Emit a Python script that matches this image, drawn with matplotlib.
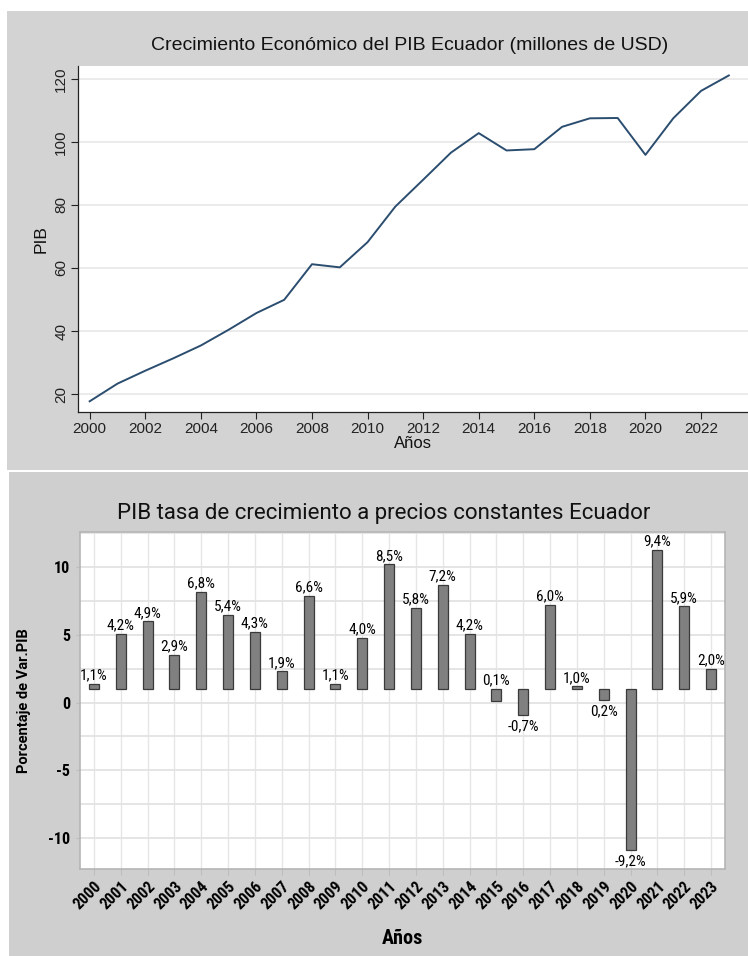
import matplotlib
matplotlib.use("Agg")
import matplotlib.pyplot as plt
from matplotlib.patches import Rectangle
from matplotlib.ticker import MultipleLocator

W, H = 748, 956

# --- top chart data: PIB (millones de USD) ---
years_pib = list(range(2000, 2024))
pib = [17.7, 23.3, 27.4, 31.3, 35.4, 40.4, 45.7, 49.9, 61.2, 60.2, 68.2, 79.5,
       88.0, 96.6, 102.8, 97.3, 97.7, 104.8, 107.5, 107.6, 95.9, 107.5, 116.2, 121.1]

# --- bottom chart data: bar tops as drawn (bars start at 1) and their labels ---
years_var = [str(y) for y in range(2000, 2024)]
bar_top = [1.4, 5.1, 6.0, 3.5, 8.2, 6.5, 5.2, 2.3, 7.9, 1.4, 4.8, 10.2,
           7.0, 8.7, 5.1, 0.1, -0.9, 7.2, 1.2, 0.2, -10.9, 11.3, 7.1, 2.5]
bar_labels = ["1,1%", "4,2%", "4,9%", "2,9%", "6,8%", "5,4%", "4,3%", "1,9%",
              "6,6%", "1,1%", "4,0%", "8,5%", "5,8%", "7,2%", "4,2%", "0,1%",
              "-0,7%", "6,0%", "1,0%", "0,2%", "-9,2%", "9,4%", "5,9%", "2,0%"]
label_below = ["2016", "2019", "2020"]
BASE = 1.0

arial = ["Liberation Sans", "Arimo", "DejaVu Sans"]
roboto = ["Roboto", "DejaVu Sans"]
cond = ["Roboto Condensed", "Archivo Narrow", "DejaVu Sans"]


def px_axes(fig, left, top, right, bottom):
    return fig.add_axes([left / W, 1 - bottom / H, (right - left) / W, (bottom - top) / H])


fig = plt.figure(figsize=(W / 100, H / 100), dpi=100)
fig.patch.set_facecolor("white")

# grey panels behind each chart
fig.patches.append(Rectangle((7 / W, 1 - 470 / H), 741 / W, 459 / H,
                             transform=fig.transFigure, facecolor="#d3d3d3",
                             edgecolor="none", zorder=-10))
fig.patches.append(Rectangle((9 / W, 0), 739 / W, (956 - 472) / H,
                             transform=fig.transFigure, facecolor="#cfcfcf",
                             edgecolor="none", zorder=-10))

# ---------------- top: line chart ----------------
ax1 = px_axes(fig, 78, 66, 748, 412)
ax1.set_facecolor("white")
ax1.plot(years_pib, pib, color="#2b4d6f", lw=1.4)
ax1.set_xlim(1999.58, 2023.69)
ax1.set_ylim(14.3, 124.1)
ax1.set_xticks(range(2000, 2023, 2))
ax1.set_yticks(range(20, 121, 20))
ax1.grid(axis="y", color="#e8e8e8", lw=1.2)
ax1.set_axisbelow(True)
for s in ("top", "right"):
    ax1.spines[s].set_visible(False)
for s in ("left", "bottom"):
    ax1.spines[s].set_color("#222222")
    ax1.spines[s].set_linewidth(0.9)
ax1.tick_params(direction="out", length=5, width=0.8, color="#222222",
                labelsize=11, labelcolor="#222222", pad=2)
for lab in ax1.get_xticklabels() + ax1.get_yticklabels():
    lab.set_family(arial)
for lab in ax1.get_yticklabels():
    lab.set_rotation(90)
    lab.set_va("center")
ax1.set_xlabel("Años", fontsize=12, color="#111111", labelpad=0.5, family=arial)
ax1.set_ylabel("PIB", fontsize=12.5, color="#111111", labelpad=4, family=arial)
fig.text(410 / W, 1 - 45 / H, "Crecimiento Económico del PIB Ecuador (millones de USD)",
         ha="center", va="center", fontsize=14, color="#111111", family=arial)

# ---------------- bottom: bar chart ----------------
ax2 = px_axes(fig, 80, 532, 725, 869)
ax2.set_facecolor("white")
x = list(range(len(years_var)))
heights = [t - BASE for t in bar_top]
ax2.bar(x, heights, bottom=BASE, width=0.37, color="#808080",
        edgecolor="#3a3a3a", linewidth=0.9, zorder=3)
for i, (t, lab) in enumerate(zip(bar_top, bar_labels)):
    if years_var[i] in label_below:
        ax2.annotate(lab, (i, min(t, BASE)), xytext=(0, -3), textcoords="offset points",
                     ha="center", va="top", fontsize=11, family=cond, zorder=4)
    else:
        ax2.annotate(lab, (i, max(t, BASE)), xytext=(0, 1), textcoords="offset points",
                     ha="center", va="bottom", fontsize=11, family=cond, zorder=4)
ax2.set_xlim(-0.52, len(x) - 0.48)
ax2.set_ylim(-12.3, 12.6)
ax2.set_xticks(x)
ax2.set_xticklabels(years_var, rotation=45, ha="right", rotation_mode="anchor",
                    fontsize=11.5, fontweight="bold", family=cond)
ax2.set_yticks([-10, -5, 0, 5, 10])
ax2.set_yticklabels(["-10", "-5", "0", "5", "10"], fontsize=11.5, fontweight="bold",
                    family=cond)
ax2.yaxis.set_minor_locator(MultipleLocator(2.5))
ax2.grid(which="both", axis="y", color="#e3e3e3", lw=1.3, zorder=0)
ax2.grid(which="major", axis="x", color="#e6e6e6", lw=1.0, zorder=0)
ax2.set_axisbelow(True)
for s in ax2.spines.values():
    s.set_color("#b5b5b5")
    s.set_linewidth(1.2)
ax2.tick_params(axis="x", length=4, color="#bdbdbd", pad=3)
ax2.tick_params(axis="y", length=3, color="#bdbdbd", pad=4)
ax2.tick_params(axis="y", which="minor", length=0)
ax2.set_xlabel("Años", fontsize=14.5, fontweight="bold", family=cond, labelpad=12)
ax2.set_ylabel("Porcentaje de Var.PIB", fontsize=10.5, fontweight="bold",
               family=roboto, labelpad=12)
fig.text(384 / W, 1 - 513 / H, "PIB tasa de crecimiento a precios constantes Ecuador",
         ha="center", va="center", fontsize=16, family=roboto, color="#111111")

fig.savefig("out.png", dpi=100, facecolor="white")
